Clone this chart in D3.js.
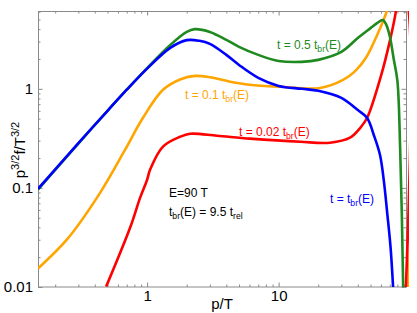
<!DOCTYPE html>
<html><head><meta charset="utf-8">
<script src="https://cdn.jsdelivr.net/npm/d3@7"></script>
<style>
body{margin:0;background:#fff}
svg{display:block}
text{font-family:"Liberation Sans",Arial,Helvetica,sans-serif}
</style>
</head><body>
<svg id="chart" width="417" height="313"></svg>
<script>
// ---- data (p/T, p^{3/2} f / T^{3/2}) ----
const pBlue  = [0.148,0.2,0.3,0.5,0.7,1,1.5,2,2.5,3,4,5,7,10,15,20,30,40,47,53,59,63,67,71,74.5];
const fBlue  = [0.098,0.154,0.283,0.60,0.98,1.6,2.59,3.1,3.05,2.84,2.2,1.74,1.29,1.07,1.0,0.955,0.81,0.61,0.51,0.34,0.215,0.12,0.055,0.025,0.009];

const pGreen = [0.148,0.2,0.3,0.5,0.7,1,1.5,2,2.3,3,4,5,7,10,15,20,30,40,50,56,62,66,70,75,80,84,88.5,88.5];
const fGreen = [0.096,0.152,0.28,0.60,0.98,1.62,2.77,3.75,4.0,3.75,3.12,2.65,2.2,1.91,1.87,1.96,2.36,3.26,4.1,4.6,4.95,4.4,3.4,2.0,1.2,0.24,0.01,0.005];

const pOrange = [0.148,0.246,0.44,0.68,0.93,1.32,1.8,2.32,3,4.28,6,10.3,20.7,30.9,38,46,57,67,72,93.5,93.5];
const fOrange = [0.0154,0.0302,0.0897,0.243,0.51,0.977,1.25,1.35,1.31,1.18,1.1,1.05,1.02,1.23,1.5,2.05,3.66,6.25,9,9,0.005];

const pRed = [0.488,0.743,0.885,1,1.054,1.32,1.78,2.12,3.4,6.07,14.6,24.6,34.9,41.8,47.1,60,70.4,78.2,80,90.8,90.8];
const fRed = [0.0101,0.0398,0.0798,0.121,0.153,0.261,0.328,0.352,0.336,0.314,0.292,0.286,0.321,0.404,0.51,1.35,3.12,6.25,9,9,0.005];

const xMajor = [1,10];
const xMajorLabels = ["1","10"];
const xMinor = [0.2,0.3,0.4,0.5,0.6,0.7,0.8,0.9,2,3,4,5,6,7,8,9,20,30,40,50,60,70,80,90];
const yMajor = [0.01,0.1,1];
const yMajorLabels = ["0.01","0.1","1"];
const yMinor = [0.02,0.03,0.04,0.05,0.06,0.07,0.08,0.09,0.2,0.3,0.4,0.5,0.6,0.7,0.8,0.9,2,3,4,5,6];

const series = [
  {p:pOrange, f:fOrange, color:"#ffa500"},
  {p:pRed,    f:fRed,    color:"#ff0000"},
  {p:pGreen,  f:fGreen,  color:"#1f8a1f"},
  {p:pBlue,   f:fBlue,   color:"#0000ff"}
];

// ---- layout ----
const L=38, R=406, T=11, B=287;
const svg = d3.select("#chart");
const x = d3.scaleLog().domain([0.148,93]).range([L,R]);
const y = d3.scaleLog().domain([0.01,6.1]).range([B,T]);

svg.append("defs").append("clipPath").attr("id","clip")
  .append("rect").attr("x",L).attr("y",T).attr("width",R-L+3).attr("height",B-T);

const tickColor="#8a8a8a";
function styleAxis(g){
  g.select(".domain").remove();
  g.selectAll(".tick line").attr("stroke",tickColor);
  g.selectAll(".tick text").attr("fill","#000").attr("font-size",15);
}
// bottom
svg.append("g").attr("transform",`translate(0,${B})`)
  .call(d3.axisBottom(x).tickValues(xMinor).tickSize(-2.5).tickFormat(""))
  .call(styleAxis);
svg.append("g").attr("transform",`translate(0,${B})`)
  .call(d3.axisBottom(x).tickValues(xMajor).tickSize(-4.5).tickPadding(3).tickFormat((d,i)=>xMajorLabels[i]))
  .call(styleAxis);
// top
svg.append("g").attr("transform",`translate(0,${T})`)
  .call(d3.axisTop(x).tickValues(xMinor).tickSize(-2.5).tickFormat(""))
  .call(styleAxis);
svg.append("g").attr("transform",`translate(0,${T})`)
  .call(d3.axisTop(x).tickValues(xMajor).tickSize(-4.5).tickFormat(""))
  .call(styleAxis);
// left
svg.append("g").attr("transform",`translate(${L},0)`)
  .call(d3.axisLeft(y).tickValues(yMinor).tickSize(-2.5).tickFormat(""))
  .call(styleAxis);
svg.append("g").attr("transform",`translate(${L},0)`)
  .call(d3.axisLeft(y).tickValues(yMajor).tickSize(-4.5).tickPadding(5).tickFormat((d,i)=>yMajorLabels[i]))
  .call(styleAxis);
// right
svg.append("g").attr("transform",`translate(${R},0)`)
  .call(d3.axisRight(y).tickValues(yMinor).tickSize(-2.5).tickFormat(""))
  .call(styleAxis);
svg.append("g").attr("transform",`translate(${R},0)`)
  .call(d3.axisRight(y).tickValues(yMajor).tickSize(-4.5).tickFormat(""))
  .call(styleAxis);

svg.append("rect").attr("x",L+0.5).attr("y",T+0.5).attr("width",R-L).attr("height",B-T-0.5)
  .attr("fill","none").attr("stroke",tickColor).attr("stroke-width",1);

// ---- curves ----
const line = d3.line().x(d=>x(d[0])).y(d=>y(d[1])).curve(d3.curveCatmullRom.alpha(0.5));
const gc = svg.append("g").attr("clip-path","url(#clip)");
series.forEach(s=>{
  gc.append("path").datum(s.p.map((p,i)=>[p,s.f[i]]))
    .attr("d",line).attr("fill","none").attr("stroke",s.color)
    .attr("stroke-width",2.6).attr("stroke-linejoin","round");
});

// ---- text ----
function label(xp,yp,color,parts,size){
  const t = svg.append("text").attr("x",xp).attr("y",yp).attr("fill",color).attr("font-size",size||12);
  let shift=0;
  parts.forEach(([txt,kind])=>{
    const ts=t.append("tspan").text(txt);
    let target = kind==="sub"?3:(kind==="sup"?-6:0);
    ts.attr("dy",target-shift);
    shift=target;
    if(kind==="sub") ts.attr("font-size",(size||12)*0.72);
    if(kind==="sup") ts.attr("font-size",(size||12)*0.72);
  });
  return t;
}
label(277,49,"#1f8a1f",[["t = 0.5 t"],["br","sub"],["(E)"]]);
label(185,99,"#ffa500",[["t = 0.1 t"],["br","sub"],["(E)"]]);
label(239,136,"#ff0000",[["t = 0.02 t"],["br","sub"],["(E)"]]);
label(330,203,"#0000ff",[["t = t"],["br","sub"],["(E)"]]);
label(169,197,"#000",[["E=90 T"]]);
label(169,216,"#000",[["t"],["br","sub"],["(E) = 9.5 t"],["rel","sub"]]);

// axis titles
svg.append("text").attr("x",(L+R)/2).attr("y",309).attr("text-anchor","middle")
  .attr("font-size",15).text("p/T");
const yl = svg.append("text").attr("transform","translate(25,150) rotate(-90)")
  .attr("text-anchor","middle").attr("font-size",15);
yl.append("tspan").text("p");
yl.append("tspan").attr("dy",-6).attr("font-size",11).text("3/2");
yl.append("tspan").attr("dy",6).text("f/T");
yl.append("tspan").attr("dy",-6).attr("font-size",11).text("3/2");
</script>
</body></html>
